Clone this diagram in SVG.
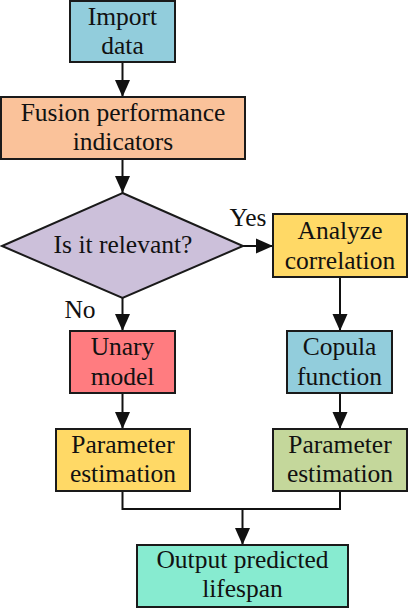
<svg xmlns="http://www.w3.org/2000/svg" width="408" height="608" viewBox="0 0 408 608">
  <style>
    .box { stroke: #1a1a1a; stroke-width: 2; }
    .lbl { font-family: "Liberation Serif", "Times New Roman", serif; font-size: 25.5px; fill: #111; text-anchor: middle; }
    .con { stroke: #111; stroke-width: 2; fill: none; }
  </style>
  <defs>
    <marker id="arr" markerUnits="userSpaceOnUse" markerWidth="17" markerHeight="16" viewBox="0 0 17 16" refX="17" refY="8" orient="auto">
      <path d="M0,0.5 L17,8 L0,15.5 Z" fill="#111"/>
    </marker>
  </defs>
  <rect width="408" height="608" fill="#ffffff"/>

  <g id="connectors">
    <line class="con" x1="122.5" y1="62" x2="122.5" y2="97" marker-end="url(#arr)"/>
    <line class="con" x1="122.5" y1="159" x2="122.5" y2="193" marker-end="url(#arr)"/>
    <line class="con" x1="243" y1="246" x2="273" y2="246" marker-end="url(#arr)"/>
    <line class="con" x1="122.5" y1="298" x2="122.5" y2="331" marker-end="url(#arr)"/>
    <line class="con" x1="340" y1="277" x2="340" y2="331" marker-end="url(#arr)"/>
    <line class="con" x1="122.5" y1="393" x2="122.5" y2="429" marker-end="url(#arr)"/>
    <line class="con" x1="340" y1="393" x2="340" y2="429" marker-end="url(#arr)"/>
    <polyline class="con" points="122.5,491 122.5,509 340,509 340,491"/>
    <line class="con" x1="242.5" y1="509" x2="242.5" y2="545" marker-end="url(#arr)"/>
    <text class="lbl" x="248" y="226">Yes</text>
    <text class="lbl" x="80" y="318">No</text>
  </g>

  <g id="import">
    <rect class="box" x="70" y="1" width="105" height="61" fill="#92CDDC"/>
    <text class="lbl" x="122.5" y="25">Import</text>
    <text class="lbl" x="122.5" y="54">data</text>
  </g>
  <g id="fusion">
    <rect class="box" x="1" y="97" width="244" height="62" fill="#FAC29A"/>
    <text class="lbl" x="123" y="121">Fusion performance</text>
    <text class="lbl" x="123" y="150">indicators</text>
  </g>
  <g id="decision">
    <polygon class="box" points="122.5,193 243,246 122.5,298 2,246" fill="#CCC0DA"/>
    <text class="lbl" x="123" y="253">Is it relevant?</text>
  </g>
  <g id="analyze">
    <rect class="box" x="273" y="214" width="134" height="63" fill="#FFD966"/>
    <text class="lbl" x="340" y="239">Analyze</text>
    <text class="lbl" x="340" y="269">correlation</text>
  </g>
  <g id="unary">
    <rect class="box" x="70" y="331" width="105" height="62" fill="#FF7C80"/>
    <text class="lbl" x="122.5" y="355">Unary</text>
    <text class="lbl" x="122.5" y="385">model</text>
  </g>
  <g id="copula">
    <rect class="box" x="287" y="331" width="105" height="62" fill="#92CDDC"/>
    <text class="lbl" x="339.5" y="355">Copula</text>
    <text class="lbl" x="339.5" y="385">function</text>
  </g>
  <g id="param-left">
    <rect class="box" x="56" y="429" width="134" height="62" fill="#FFD966"/>
    <text class="lbl" x="123" y="453">Parameter</text>
    <text class="lbl" x="123" y="482">estimation</text>
  </g>
  <g id="param-right">
    <rect class="box" x="273" y="429" width="134" height="62" fill="#C4D79B"/>
    <text class="lbl" x="340" y="453">Parameter</text>
    <text class="lbl" x="340" y="482">estimation</text>
  </g>
  <g id="output">
    <rect class="box" x="137" y="545" width="211" height="62" fill="#87EBD0"/>
    <text class="lbl" x="242.5" y="568">Output predicted</text>
    <text class="lbl" x="242.5" y="597">lifespan</text>
  </g>
</svg>
